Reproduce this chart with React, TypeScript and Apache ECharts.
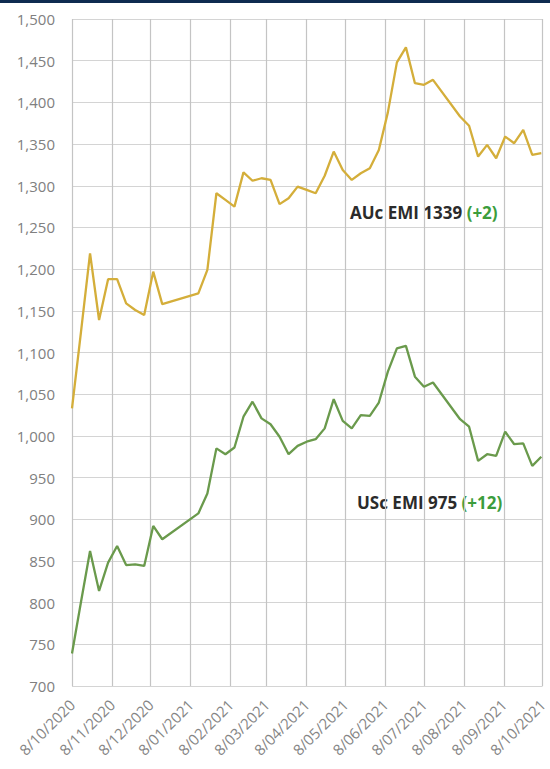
import React, { useEffect, useRef } from "react";
import * as echarts from "echarts";

// Weekly sale dates (Thursdays)
const dates = [
  "2020-10-08", "2020-10-15", "2020-10-22", "2020-10-29", "2020-11-05", "2020-11-12",
  "2020-11-19", "2020-11-26", "2020-12-03", "2020-12-10", "2020-12-17",
  "2021-01-14", "2021-01-21", "2021-01-28",
  "2021-02-04", "2021-02-11", "2021-02-18", "2021-02-25",
  "2021-03-04", "2021-03-11", "2021-03-18", "2021-03-25",
  "2021-04-01", "2021-04-08", "2021-04-15", "2021-04-22", "2021-04-29",
  "2021-05-06", "2021-05-13", "2021-05-20", "2021-05-27",
  "2021-06-03", "2021-06-10", "2021-06-17", "2021-06-24",
  "2021-07-01", "2021-07-08", "2021-07-15",
  "2021-08-05", "2021-08-12", "2021-08-19", "2021-08-26",
  "2021-09-02", "2021-09-09", "2021-09-16", "2021-09-23", "2021-09-30",
  "2021-10-07",
];

const aucEmi = [
  1033, 1125, 1219, 1139, 1188, 1188, 1159, 1151, 1145, 1197, 1158,
  1171, 1199, 1291,
  1283, 1275, 1316, 1306,
  1309, 1307, 1278, 1285,
  1299, 1295, 1291, 1312, 1341,
  1319, 1307, 1315, 1321,
  1343, 1388, 1448, 1466,
  1423, 1421, 1427,
  1383, 1372, 1335, 1349,
  1333, 1359, 1351, 1367, 1337,
  1339,
];

const uscEmi = [
  739, 801, 862, 814, 848, 868, 845, 846, 844, 892, 876,
  907, 931, 985,
  978, 986, 1023, 1041,
  1021, 1014, 999, 978,
  988, 993, 996, 1009, 1044,
  1018, 1009, 1025, 1024,
  1040, 1077, 1105, 1108,
  1071, 1059, 1064,
  1020, 1011, 970, 978,
  976, 1005, 990, 991, 964,
  975,
];

const tickDates = [
  "2020-10-08", "2020-11-08", "2020-12-08", "2021-01-08", "2021-02-08", "2021-03-08",
  "2021-04-08", "2021-05-08", "2021-06-08", "2021-07-08", "2021-08-08", "2021-09-08",
  "2021-10-08",
];

const yMin = 700;
const yMax = 1500;
const yStep = 50;

const aucName = "AUc EMI";
const aucChange = "+2";
const uscName = "USc EMI";
const uscChange = "+12";

function ts(s: string): number {
  const [y, m, d] = s.split("-").map(Number);
  return Date.UTC(y, m - 1, d);
}

function fmtDate(v: number): string {
  const d = new Date(v);
  return `${d.getUTCDate()}/${String(d.getUTCMonth() + 1).padStart(2, "0")}/${d.getUTCFullYear()}`;
}

export default function App() {
  const ref = useRef<HTMLDivElement>(null);

  useEffect(() => {
    if (!ref.current) return;
    const chart = echarts.init(ref.current, undefined, { renderer: "svg" });
    const ticks = tickDates.map(ts);
    const font = "'Open Sans', sans-serif";
    const rich = {
      a: { fill: "#2b2b2b", fontSize: 17, fontWeight: "bold", fontFamily: font },
      b: { fill: "#3c9d3c", fontSize: 17, fontWeight: "bold", fontFamily: font },
    };
    const option: any = {
      animation: false,
      backgroundColor: "#ffffff",
      grid: { left: 72, right: 7, top: 19, bottom: 83 },
      xAxis: {
        type: "value",
        min: ticks[0],
        max: ticks[ticks.length - 1],
        axisLine: { show: false },
        axisTick: { show: false, customValues: ticks },
        axisLabel: {
          customValues: ticks,
          formatter: (v: number) => fmtDate(v),
          rotate: 45,
          color: "#858585",
          fontSize: 15,
          fontFamily: font,
          margin: 16,
          showMinLabel: true,
          showMaxLabel: true,
        },
        splitLine: { show: true, lineStyle: { color: "#c4c4c4", width: 1.2 } },
      },
      yAxis: {
        type: "value",
        min: yMin,
        max: yMax,
        interval: yStep,
        axisLine: { show: false },
        axisTick: { show: false },
        axisLabel: {
          formatter: (v: number) => v.toLocaleString("en-US"),
          color: "#808080",
          fontSize: 15,
          fontFamily: font,
          margin: 17,
        },
        splitLine: { show: true, lineStyle: { color: "#d4d4d4", width: 1.2 } },
      },
      series: [
        {
          name: aucName,
          type: "line",
          data: dates.map((d, i) => [ts(d), aucEmi[i]]),
          showSymbol: false,
          lineStyle: { color: "#D4AE3A", width: 2.3 },
          itemStyle: { color: "#D4AE3A" },
        },
        {
          name: uscName,
          type: "line",
          data: dates.map((d, i) => [ts(d), uscEmi[i]]),
          showSymbol: false,
          lineStyle: { color: "#6A9A4C", width: 2.3 },
          itemStyle: { color: "#6A9A4C" },
        },
      ],
      graphic: [
        {
          type: "rect",
          shape: { x: 0, y: 0, width: 550, height: 3 },
          style: { fill: "#0f2b50" },
        },
        {
          type: "text",
          x: 350,
          y: 212,
          style: {
            text: `{a|${aucName} ${aucEmi[aucEmi.length - 1]} }{b|(${aucChange})}`,
            verticalAlign: "middle",
            rich,
          },
        },
        {
          type: "text",
          x: 357,
          y: 502,
          style: {
            text: `{a|${uscName} ${uscEmi[uscEmi.length - 1]} }{b|(${uscChange})}`,
            verticalAlign: "middle",
            rich,
          },
        },
      ],
    };
    chart.setOption(option);
    return () => chart.dispose();
  }, []);

  return (
    <div
      ref={ref}
      style={{ position: "fixed", left: 0, top: 0, width: 550, height: 769 }}
    />
  );
}
